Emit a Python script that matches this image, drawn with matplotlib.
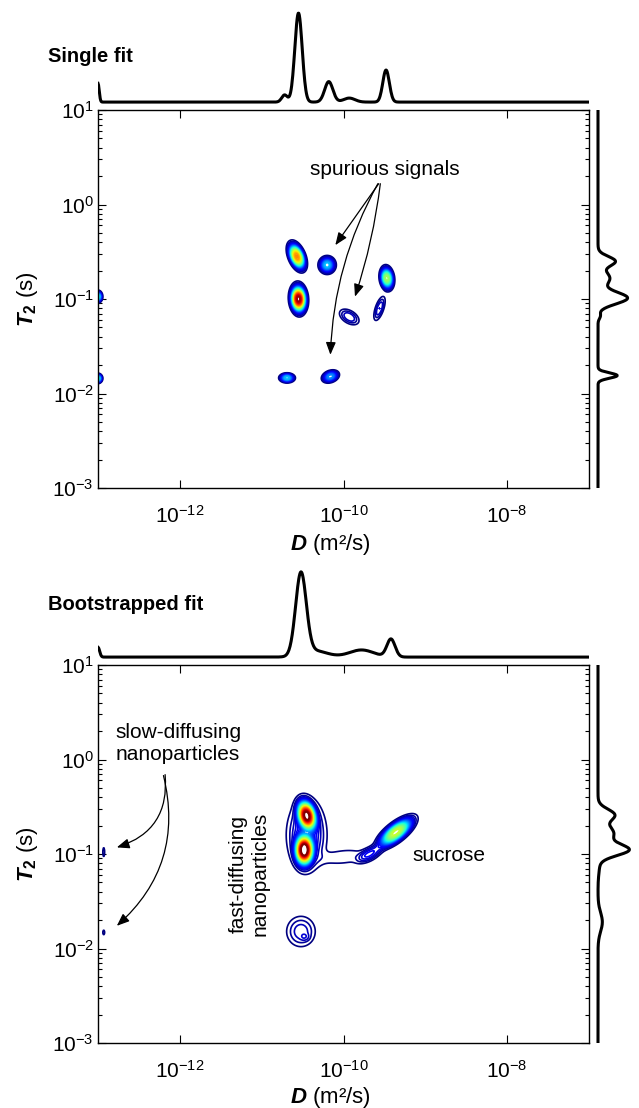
import numpy as np
import matplotlib
matplotlib.use('Agg')
import matplotlib.pyplot as plt
from matplotlib.ticker import NullLocator, LogLocator, NullFormatter

plt.rcParams['font.family'] = ['Liberation Sans', 'DejaVu Sans']
plt.rcParams['mathtext.fontset'] = 'custom'
plt.rcParams['mathtext.rm'] = 'Liberation Sans'
plt.rcParams['mathtext.it'] = 'Liberation Sans:italic:bold'
plt.rcParams['mathtext.bf'] = 'Liberation Sans:bold'

# --- 2D peaks (log10 D, log10 T2, width major, width minor, angle deg, amplitude)
single_cx = [-10.57, -10.55, -10.20, -9.93, -9.47, -9.56, -10.69, -10.16, -13.0, -13.0]
single_cy = [-0.55, -1.00, -0.64, -1.19, -0.78, -1.10, -1.835, -1.82, -0.975, -1.84]
single_sa = [0.088, 0.086, 0.058, 0.085, 0.07, 0.09, 0.053, 0.06, 0.03, 0.03]
single_sb = [0.05, 0.056, 0.052, 0.046, 0.046, 0.034, 0.028, 0.035, 0.035, 0.028]
single_ang = [-62, -85, 0, -25, -80, 68, 0, 15, 0, 0]
single_amp = [0.78, 1.0, 0.35, 0.1, 0.57, 0.1, 0.35, 0.3, 0.4, 0.4]

boot_cx = [-10.45, -10.48, -10.45, -10.0, -9.36, -9.68, -10.52, -10.47, -12.93, -12.93]
boot_cy = [-0.59, -0.96, -0.80, -1.03, -0.77, -1.0, -1.82, -1.88, -0.98, -1.83]
boot_sa = [0.1, 0.1, 0.24, 0.22, 0.15, 0.11, 0.12, 0.04, 0.055, 0.028]
boot_sb = [0.066, 0.068, 0.15, 0.06, 0.056, 0.045, 0.11, 0.028, 0.013, 0.013]
boot_ang = [-70, -90, 90, 5, 33, 25, 0, 0, 90, 90]
boot_amp = [0.95, 1.0, 0.15, 0.045, 0.62, 0.12, 0.09, 0.03, 0.035, 0.035]

# --- 1D projections (centre, height, width) in log10 units
single_top_c = [-13.0, -10.72, -10.55, -10.18, -9.93, -9.48]
single_top_h = [0.21, 0.08, 1.0, 0.23, 0.045, 0.36]
single_top_w = [0.015, 0.035, 0.045, 0.05, 0.07, 0.04]

single_right_c = [-0.60, -0.78, -0.99, -1.18, -1.81]
single_right_h = [0.55, 0.38, 0.95, 0.07, 0.62]
single_right_w = [0.05, 0.07, 0.063, 0.03, 0.028]

boot_top_c = [-13.0, -10.52, -10.35, -9.78, -9.42]
boot_top_h = [0.11, 0.92, 0.07, 0.08, 0.2]
boot_top_w = [0.02, 0.065, 0.15, 0.15, 0.05]

boot_right_c = [-0.585, -0.78, -0.957, -1.1, -1.72]
boot_right_h = [0.52, 0.5, 0.95, 0.05, 0.14]
boot_right_w = [0.06, 0.08, 0.059, 0.1, 0.1]

x_ticks = [1e-12, 1e-10, 1e-8]

logd = np.linspace(-13, -7, 901)
logt = np.linspace(-3, 1, 601)
LD, LT = np.meshgrid(logd, logt)


def field(cx, cy, sa, sb, ang, amp):
    z = np.zeros_like(LD)
    for x0, y0, a, b, t, h in zip(cx, cy, sa, sb, ang, amp):
        t = np.deg2rad(t)
        dx, dy = LD - x0, LT - y0
        u = dx * np.cos(t) + dy * np.sin(t)
        v = -dx * np.sin(t) + dy * np.cos(t)
        r = np.sqrt((u / a) ** 2 + (v / b) ** 2)
        z += h * np.exp(-0.5 * r ** 2.5)
    return z


def profile(x, c, h, w):
    y = np.zeros_like(x)
    for c0, h0, w0 in zip(c, h, w):
        y += h0 * np.exp(-0.5 * ((x - c0) / w0) ** 2)
    return y


W, H = 639, 1108
fig = plt.figure(figsize=(W / 100, H / 100), dpi=100)


def panel(top_px, z, tc, th, tw, rc, rh, rw, title, title_dy, xlab_dy):
    left, right = 98, 589
    bottom_px = top_px + 378
    ax = fig.add_axes([left / W, 1 - bottom_px / H, (right - left) / W, 378 / H])
    ax.set_xscale('log')
    ax.set_yscale('log')
    levels = np.linspace(0.025, 1.0, 40)
    ax.contour(10 ** LD, 10 ** LT, z, levels=levels, cmap='jet', linewidths=1.2)
    ax.set_xlim(1e-13, 1e-7)
    ax.set_ylim(1e-3, 1e1)
    ax.set_xticks(x_ticks)
    ax.xaxis.set_minor_locator(NullLocator())
    ax.yaxis.set_major_locator(LogLocator(base=10, numticks=10))
    ax.yaxis.set_minor_locator(LogLocator(base=10, subs=np.arange(2, 10), numticks=10))
    ax.yaxis.set_minor_formatter(NullFormatter())
    ax.tick_params(which='both', direction='in', top=True, right=True, labelsize=15, width=0.8)
    ax.tick_params(which='major', length=6)
    ax.tick_params(which='minor', length=3)
    ax.tick_params(axis='x', pad=12)
    ax.tick_params(axis='y', pad=3)
    for s in ax.spines.values():
        s.set_linewidth(1.0)
    ax.set_xlabel(r'$D$ (m²/s)', fontsize=16)
    ax.xaxis.set_label_coords(0.473, -xlab_dy / 378)
    ax.set_ylabel(r'$T_{\mathbf{2}}$ (s)', fontsize=16)
    ax.yaxis.set_label_coords(-0.118, 0.5)

    axt = fig.add_axes([left / W, 1 - (top_px - 4) / H, (right - left) / W, 98 / H])
    axt.plot(10 ** logd, profile(logd, tc, th, tw), color='black', lw=2.2)
    axt.set_xscale('log')
    axt.set_xlim(1e-13, 1e-7)
    axt.set_ylim(-0.044, 1.056)
    axt.axis('off')

    axr = fig.add_axes([594 / W, 1 - bottom_px / H, 40 / W, 378 / H])
    axr.plot(profile(logt, rc, rh, rw), 10 ** logt, color='black', lw=2.2)
    axr.set_yscale('log')
    axr.set_ylim(1e-3, 1e1)
    axr.set_xlim(-0.129, 1.161)
    axr.axis('off')

    fig.text(48 / W, 1 - (top_px - title_dy) / H, title, fontsize=14.5, fontweight='bold',
             ha='left', va='center')
    return ax


arrow = dict(arrowstyle='-|>,head_length=0.75,head_width=0.3', color='black', lw=0.9,
             shrinkA=0, shrinkB=0)

ax1 = panel(110, field(single_cx, single_cy, single_sa, single_sb, single_ang, single_amp),
            single_top_c, single_top_h, single_top_w,
            single_right_c, single_right_h, single_right_w, 'Single fit', 53, 44)
ax1.text(10 ** -9.49, 10 ** 0.375, 'spurious signals', fontsize=15, ha='center', va='center')
ax1.annotate('', xy=(10 ** -10.1, 10 ** -0.43), xytext=(10 ** -9.57, 10 ** 0.22),
             arrowprops=dict(arrow, connectionstyle='arc3,rad=0'))
ax1.annotate('', xy=(10 ** -9.86, 10 ** -0.975), xytext=(10 ** -9.55, 10 ** 0.22),
             arrowprops=dict(arrow, connectionstyle='arc3,rad=-0.05'))
ax1.annotate('', xy=(10 ** -10.16, 10 ** -1.59), xytext=(10 ** -9.58, 10 ** 0.22),
             arrowprops=dict(arrow, connectionstyle='arc3,rad=0.12'))

ax2 = panel(665, field(boot_cx, boot_cy, boot_sa, boot_sb, boot_ang, boot_amp),
            boot_top_c, boot_top_h, boot_top_w,
            boot_right_c, boot_right_h, boot_right_w, 'Bootstrapped fit', 60, 42)
ax2.text(10 ** -12.79, 10 ** 0.17, 'slow-diffusing\nnanoparticles', fontsize=15,
         ha='left', va='center', linespacing=1.2)
ax2.annotate('', xy=(10 ** -12.77, 10 ** -0.93), xytext=(10 ** -12.18, 10 ** -0.16),
             arrowprops=dict(arrow, connectionstyle='arc3,rad=-0.4'))
ax2.annotate('', xy=(10 ** -12.77, 10 ** -1.76), xytext=(10 ** -12.2, 10 ** -0.17),
             arrowprops=dict(arrow, connectionstyle='arc3,rad=-0.3'))
ax2.text(10 ** -11.155, 10 ** -1.21, 'fast-diffusing\nnanoparticles', fontsize=15,
         ha='center', va='center', rotation=90, linespacing=1.2)
ax2.text(10 ** -9.16, 10 ** -1.02, 'sucrose', fontsize=15, ha='left', va='center')

fig.savefig('out.png', dpi=100)
